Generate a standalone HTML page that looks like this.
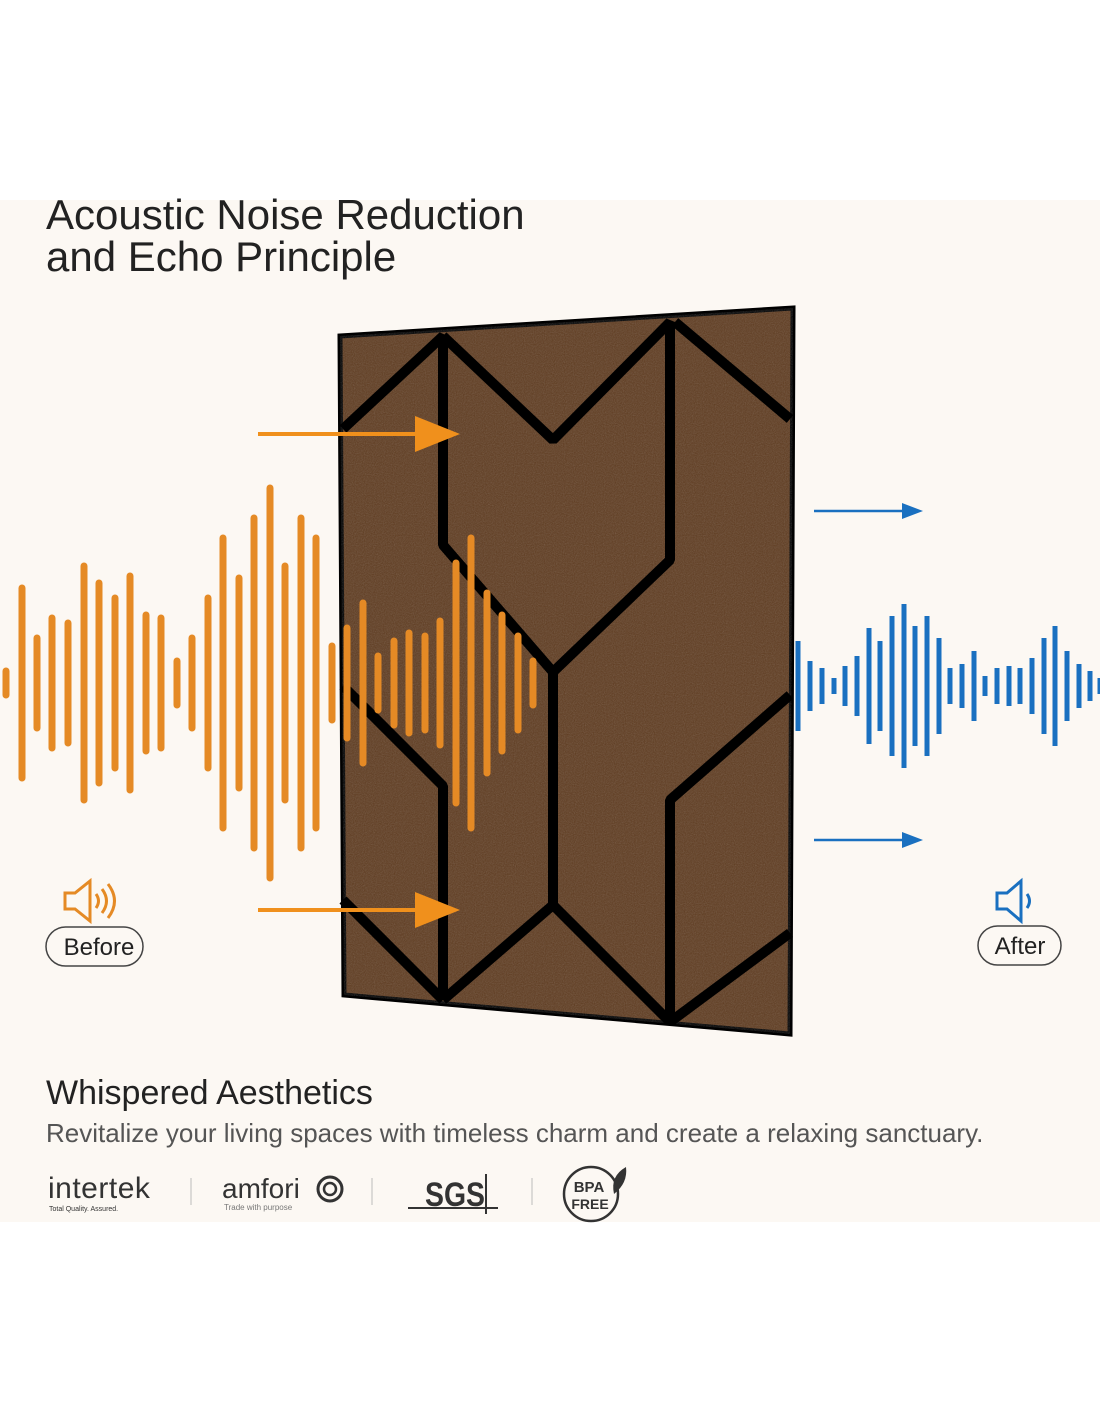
<!DOCTYPE html>
<html><head><meta charset="utf-8"><style>
body{margin:0;width:1100px;height:1422px;background:#fff;position:relative;font-family:"Liberation Sans",sans-serif;overflow:hidden}
.bg{position:absolute;left:0;top:200px;width:1100px;height:1022px;background:#fcf8f3}
.t{position:absolute;color:#222}
</style></head><body>
<div class="bg"></div>
<div class="t" style="left:46px;top:194px;font-size:42px;line-height:42px">Acoustic Noise Reduction<br>and Echo Principle</div>
<svg width="1100" height="1422" style="position:absolute;left:0;top:0">
<defs>
<filter id="n"><feTurbulence type="fractalNoise" baseFrequency="0.9" numOctaves="2" result="t"/><feColorMatrix type="saturate" values="0"/><feComponentTransfer><feFuncA type="table" tableValues="0 0.25"/></feComponentTransfer><feComposite in2="SourceGraphic" operator="in"/></filter>
</defs>
<polygon points="340,336 793,308 790,1034 344,995" fill="#5e3a1e" stroke="#000" stroke-width="5"/>
<polygon points="340,336 793,308 790,1034 344,995" fill="#000" filter="url(#n)"/>
<g stroke="#000" stroke-width="10" fill="none" stroke-linejoin="bevel">
<polyline points="343,429 443,336 443,545 553,672 553,905 443,1000"/>
<polyline points="443,336 553,440 670,322 670,560 553,672"/>
<polyline points="675,322 790,419"/>
<polyline points="343,686 443,786 443,1000"/>
<polyline points="343,900 443,1000"/>
<polyline points="553,905 670,1022 670,800 790,695"/>
<polyline points="670,1022 790,933"/>
</g>
<g stroke="#f0901c" stroke-width="4" fill="#f0901c">
<line x1="258" y1="434" x2="440" y2="434"/><polygon points="415,416 460,434 415,452" stroke="none"/>
<line x1="258" y1="910" x2="440" y2="910"/><polygon points="415,892 460,910 415,928" stroke="none"/>
</g>
<g stroke="#1a70c0" stroke-width="2.5" fill="#1a70c0">
<line x1="814" y1="511" x2="910" y2="511"/><polygon points="902,503 923,511 902,519" stroke="none"/>
<line x1="814" y1="840" x2="910" y2="840"/><polygon points="902,832 923,840 902,848" stroke="none"/>
</g>
<g id="ow" stroke="#e58a25" stroke-width="7" stroke-linecap="round"></g>
<g id="bw" stroke="#1a70c0" stroke-width="5" stroke-linecap="butt"></g>
<g fill="none" stroke="#e58a25" stroke-width="3">
<polygon points="65,893 75,893 90,881 90,921 75,909 65,909"/>
<path d="M96,894 q5,7 0,14 M102,889 q9,12 0,24 M108,884 q13,17 0,34"/>
</g>
<g fill="none" stroke="#1a70c0" stroke-width="3">
<polygon points="997,893 1007,893 1021,881 1021,921 1007,909 997,909"/>
<path d="M1027,894 q5,7 0,14"/>
</g>
<rect x="46" y="927" width="97" height="39" rx="19.5" fill="none" stroke="#444" stroke-width="1.5"/>
<rect x="978" y="926" width="83" height="39" rx="19.5" fill="none" stroke="#444" stroke-width="1.5"/>
<text x="99" y="955" font-size="24" text-anchor="middle" fill="#222" font-family="Liberation Sans">Before</text>
<text x="1020" y="954" font-size="24" text-anchor="middle" fill="#222" font-family="Liberation Sans">After</text>
<g font-family="Liberation Sans" fill="#333">
<text x="48" y="1198" font-size="30" letter-spacing="0.5">intertek</text>
<text x="49" y="1211" font-size="7">Total Quality. Assured.</text>
<line x1="191" y1="1178" x2="191" y2="1205" stroke="#bbb"/>
<text x="222" y="1198" font-size="28">amfori</text>
<text x="224" y="1210" font-size="8" fill="#777">Trade with purpose</text>
<circle cx="330" cy="1189" r="12" fill="none" stroke="#333" stroke-width="3"/><circle cx="330" cy="1189" r="6" fill="none" stroke="#333" stroke-width="2.5"/>
<line x1="372" y1="1178" x2="372" y2="1205" stroke="#bbb"/>
<text x="425" y="1206" font-size="34" font-weight="bold" textLength="60" lengthAdjust="spacingAndGlyphs">SGS</text>
<line x1="408" y1="1208" x2="498" y2="1208" stroke="#333" stroke-width="2"/><line x1="486" y1="1174" x2="486" y2="1214" stroke="#333" stroke-width="2"/>
<line x1="532" y1="1178" x2="532" y2="1205" stroke="#bbb"/>
<circle cx="591" cy="1194" r="27" fill="none" stroke="#333" stroke-width="2.5"/>
<text x="589" y="1192" font-size="15" font-weight="bold" text-anchor="middle">BPA</text>
<text x="590" y="1209" font-size="14" font-weight="bold" text-anchor="middle">FREE</text>
<path d="M614,1194 q-4,-18 12,-27 q2,16 -12,27z" fill="#333"/>
</g>
</svg>
<div class="t" style="left:46px;top:1074px;font-size:34px">Whispered Aesthetics</div>
<div class="t" style="left:46px;top:1118px;font-size:26px;color:#555">Revitalize your living spaces with timeless charm and create a relaxing sanctuary.</div>
<script>
var o=[[6,12],[22,95],[37,45],[52,65],[68,60],[84,117],[99,100],[115,85],[130,107],[146,68],[161,65],[177,22],[192,45],[208,85],[223,145],[239,105],[254,165],[270,195],[285,117],[301,165],[316,145],[332,37],[347,55],[363,80],[378,27],[394,42],[409,50],[425,47],[440,62],[456,120],[471,145],[487,90],[502,68],[518,47],[533,22]];
var b=[[798,45],[810,25],[822,18],[834,8],[845,20],[857,30],[869,58],[880,45],[892,70],[904,82],[915,60],[927,70],[939,48],[950,18],[962,22],[974,35],[985,10],[997,18],[1009,20],[1020,18],[1032,28],[1044,48],[1055,60],[1067,35],[1079,22],[1090,15],[1100,8]];
function f(id,a,c){var g=document.getElementById(id),s='';a.forEach(function(p){s+='<line x1="'+p[0]+'" x2="'+p[0]+'" y1="'+(c-p[1])+'" y2="'+(c+p[1])+'"/>'});g.innerHTML=s;}
f('ow',o,683);f('bw',b,686);
</script>
</body></html>
